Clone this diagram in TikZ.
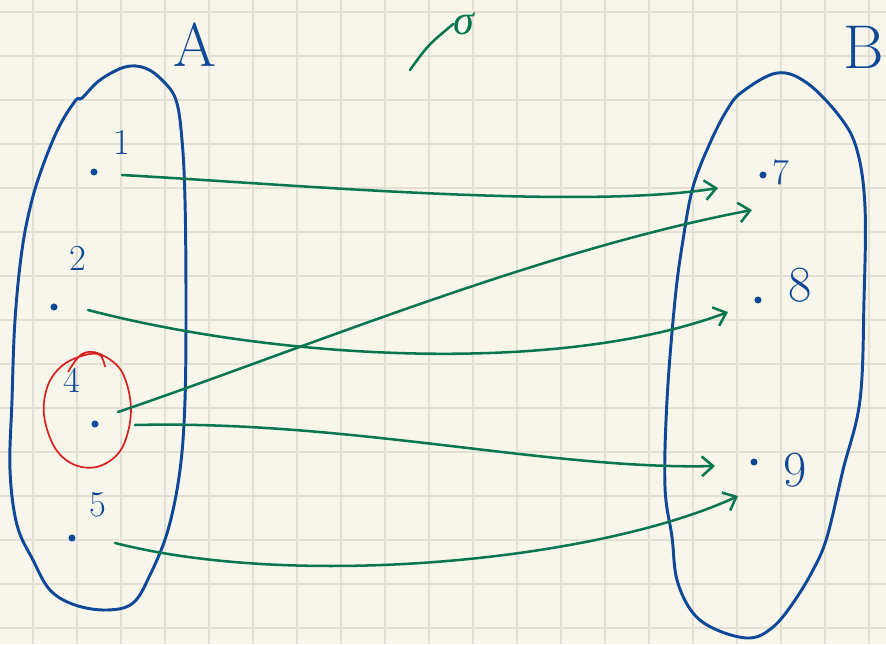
\documentclass[tikz,border=0pt]{standalone}
\usepackage{fontspec}
\newfontfamily\greekfont{Liberation Serif}
\usepackage{tikz}
\definecolor{inkblue}{RGB}{14,72,150}
\definecolor{inkgreen}{RGB}{8,118,78}
\definecolor{inkred}{RGB}{214,32,32}
\definecolor{paper}{RGB}{248,246,235}
\definecolor{paperline}{RGB}{226,224,210}
\usetikzlibrary{arrows.meta, calc}

\begin{document}
\begin{tikzpicture}[x=0.025cm, y=-0.025cm, >={Straight Barb[length=8pt,width=14pt]},   %Pixelraster, y nach unten
					pt/.style={circle, fill=inkblue, inner sep=0pt, minimum size=5pt},
					lbl/.style={text=inkblue, font=\fontsize{26}{28}\selectfont, inner sep=0pt},
					biglbl/.style={lbl, font=\fontsize{36}{38}\selectfont},
					setname/.style={text=inkblue, font=\fontsize{44}{46}\selectfont, inner sep=0pt},
					blob/.style={draw=inkblue, line width=2.1pt, line join=round},
					arr/.style={->, draw=inkgreen, line width=1.8pt, line cap=round},
					ring/.style={draw=inkred, line width=1.2pt}]
					\useasboundingbox (0,0) rectangle (886,644);
					\fill[paper] (0,0) rectangle (886,644);
					\foreach \gx in {33,77,...,869} \draw[paperline, line width=1.5pt] (\gx,0) -- (\gx,644);
					\foreach \gy in {12,56,...,628} \draw[paperline, line width=1.5pt] (0,\gy) -- (886,\gy);
					% Mengen
					\draw[blob] plot[smooth cycle, tension=0.6] coordinates {(82,98) (100,80) (125,67) (145,68) (162,80) (176,100) (182,140) (185,200) (186,300) (185,400) (180,470) (168,530) (150,575) (133,603) (107,610) (75,605) (50,590) (33,560) (17,525) (10,470) (12,400) (15,320) (22,250) (32,200) (45,160) (60,125) (76,100)};
					\draw[blob] plot[smooth cycle, tension=0.6] coordinates {(742,92) (777,73) (807,83) (840,117) (857,150) (865,207) (864,300) (860,400) (843,470) (827,537) (813,570) (793,603) (773,627) (750,638) (717,630) (693,613) (677,580) (672,537) (665,487) (667,400) (675,300) (683,240) (693,187) (710,143) (727,110)};
					\node[setname] (A) at (195,45) {A};
					\node[setname, anchor=east] (B) at (884,47) {B};
					\node[text=inkgreen, font=\fontsize{30}{32}\greekfont\itshape, inner sep=0pt] (sig) at (464,24) {σ};
					\draw[inkgreen, line width=1.8pt, line cap=round] (410,70) .. controls (428,45) .. (sig.west);
					% Elemente
					\node[pt] (p1) at (94,172) {};
					\node[pt] (p2) at (54,307) {};
					\node[pt] (p4) at (95,424) {};
					\node[pt] (p5) at (72,538) {};
					\node[pt] (q7) at (763,175) {};
					\node[pt] (q8) at (758,300) {};
					\node[pt] (q9) at (754,462) {};
					\node[lbl] (n1) at (122,142) {1};
					\node[lbl] (n2) at (78,258) {2};
					\node[lbl] (n4) at (72,380) {4};
					\node[lbl] (n5) at (98,505) {5};
					\node[lbl] (n7) at (781,172) {7};
					\node[biglbl] (n8) at (800,285) {8};
					\node[biglbl] (n9) at (795,470) {9};
					\draw[ring] plot[smooth, tension=0.6] coordinates {(68,372) (82,354) (100,354) (122,372) (131,410) (122,448) (100,466) (75,465) (55,448) (44,415) (48,385) (63,365) (85,355) (100,355) (105,367)};
					% Zuordnung
					\draw[arr] ($(p1)+(28,3)$) .. controls (300,185) and (580,210) .. ($(q7)+(-45,13)$);
					\draw[arr] ($(p2)+(34,3)$) .. controls (280,360) and (560,375) .. ($(q8)+(-30,12)$);
					\draw[arr] ($(p4)+(23,-12)$) .. controls (300,350) and (540,250) .. ($(q7)+(-11,35)$);
					\draw[arr] ($(p4)+(40,1)$) .. controls (350,420) and (550,470) .. ($(q9)+(-39,4)$);
					\draw[arr] ($(p5)+(43,5)$) .. controls (300,590) and (600,560) .. ($(q9)+(-16,34)$);
				\end{tikzpicture}
\end{document}
